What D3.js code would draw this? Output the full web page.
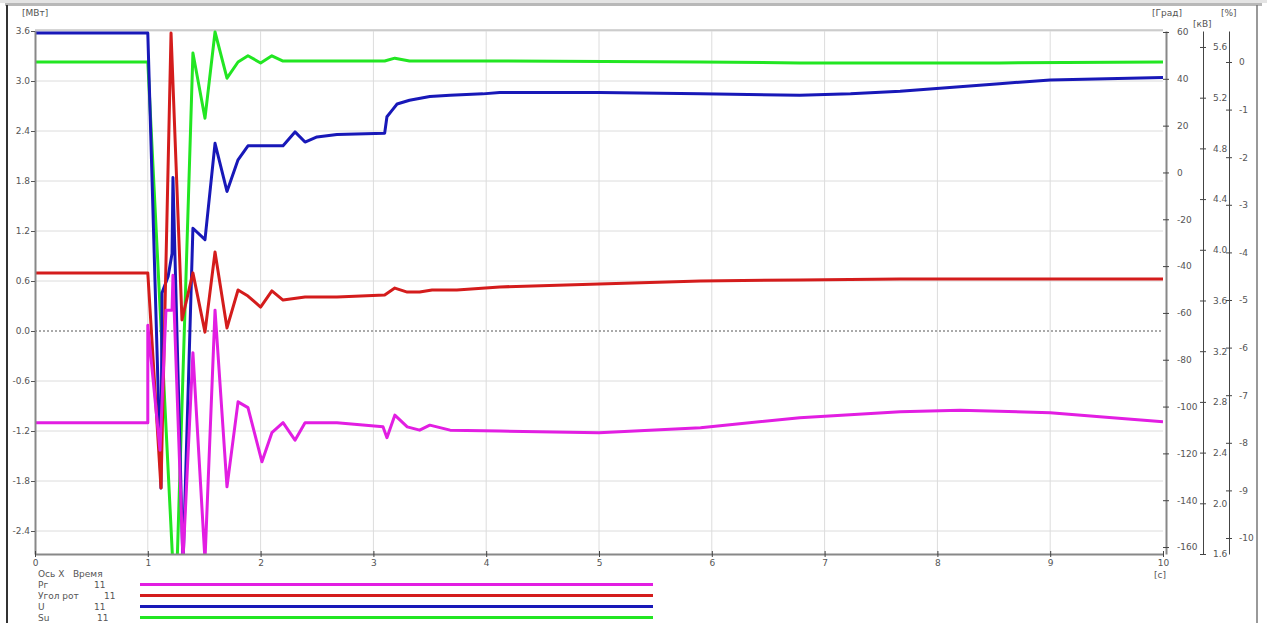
<!DOCTYPE html>
<html>
<head>
<meta charset="utf-8">
<script src="https://cdn.jsdelivr.net/npm/d3@7"></script>
<style>
  body { margin: 0; background: #fff; }
  svg text { font-family: "DejaVu Sans", Verdana, sans-serif; font-size: 9px; fill: #555; }
  .grid line { stroke: #dcdcdc; stroke-width: 1; }
  .series { fill: none; stroke-width: 3; stroke-linejoin: round; }
</style>
</head>
<body>
<div class="container"></div>
<script>
var WIDTH = 1267, HEIGHT = 623;
var LEFT = 35, RIGHT = 1163, TOP = 31, BOTTOM = 554;

// time axis, seconds
var timeTicks = d3.range(0, 11);
// left axis [МВт]
var mwTicks = [3.6, 3.0, 2.4, 1.8, 1.2, 0.6, 0.0, -0.6, -1.2, -1.8, -2.4];
// [Град]
var degTicks = [60, 40, 20, 0, -20, -40, -60, -80, -100, -120, -140, -160];
// [кВ]
var kvTicks = [5.6, 5.2, 4.8, 4.4, 4.0, 3.6, 3.2, 2.8, 2.4, 2.0, 1.6];
// [%]
var pctTicks = [0, -1, -2, -3, -4, -5, -6, -7, -8, -9, -10];

// Рг, МВт
var pgTime   = [0, 1.0, 1.0, 1.108, 1.161, 1.215, 1.223, 1.312, 1.40, 1.507, 1.596, 1.702, 1.80, 1.888, 2.012, 2.10, 2.199, 2.305, 2.394, 2.677, 3.085, 3.12, 3.19, 3.30, 3.41, 3.50, 3.68, 4.12, 5.0, 5.9, 6.78, 7.67, 8.2, 9.0, 9.44, 10];
var pgValues = [-1.10, -1.10, 0.07, -1.43, 0.25, 0.25, 0.67, -2.75, -0.26, -2.75, 0.25, -1.87, -0.85, -0.92, -1.57, -1.22, -1.10, -1.31, -1.10, -1.10, -1.15, -1.28, -1.01, -1.15, -1.19, -1.13, -1.19, -1.20, -1.22, -1.16, -1.04, -0.97, -0.95, -0.98, -1.03, -1.09];

// Угол рот, Град
var angTime   = [0, 1.0, 1.117, 1.206, 1.303, 1.40, 1.507, 1.596, 1.702, 1.80, 1.888, 2.0, 2.10, 2.199, 2.394, 2.677, 3.10, 3.19, 3.30, 3.41, 3.52, 3.74, 4.12, 5.0, 5.9, 6.78, 7.67, 10];
var angValues = [-42.9, -42.9, -134.8, 59.6, -63, -42.9, -68.2, -34, -66.4, -50.2, -52.8, -57.5, -50.6, -54.5, -53.2, -53.2, -52.3, -49.4, -51.1, -51.1, -50.2, -50.2, -48.9, -47.6, -46.4, -45.9, -45.5, -45.5];

// U, кВ
var uTime   = [0, 1.0, 1.117, 1.126, 1.18, 1.215, 1.223, 1.312, 1.40, 1.507, 1.596, 1.702, 1.80, 1.888, 2.199, 2.305, 2.394, 2.50, 2.677, 3.10, 3.12, 3.165, 3.21, 3.32, 3.50, 3.68, 3.97, 4.12, 5.0, 5.9, 6.78, 7.23, 7.67, 8.55, 9.0, 10];
var uValues = [5.71, 5.71, 2.12, 3.66, 3.79, 3.97, 4.57, 1.50, 4.17, 4.08, 4.84, 4.46, 4.71, 4.82, 4.82, 4.93, 4.85, 4.89, 4.91, 4.92, 5.05, 5.10, 5.15, 5.18, 5.21, 5.22, 5.23, 5.24, 5.24, 5.23, 5.22, 5.23, 5.25, 5.31, 5.34, 5.36];

// Su, %
var suTime   = [0, 1.0, 1.223, 1.259, 1.40, 1.507, 1.596, 1.702, 1.80, 1.888, 2.0, 2.10, 2.199, 2.35, 3.10, 3.19, 3.32, 4.12, 5.9, 6.78, 8.55, 10];
var suValues = [0, 0, -10.6, -10.6, 0.19, -1.18, 0.63, -0.34, 0, 0.13, -0.02, 0.13, 0.02, 0.02, 0.02, 0.08, 0.02, 0.02, 0, -0.02, -0.02, 0];

var legendNames = ["Рг", "Угол рот", "U", "Su"];
var legendCounts = ["11", "11", "11", "11"];
var colors = ["#e21ee2", "#d41c1c", "#1818b8", "#22e622"];

var zip = function(ts, vs){
    return ts.map(function(t, i){ return {t: t, v: vs[i]}; });
};

var svg = d3.select('.container').append('svg')
            .attr('width', WIDTH)
            .attr('height', HEIGHT);

// outer frame
svg.append('rect').attr('x', 0).attr('y', 0).attr('width', WIDTH).attr('height', 3).attr('fill', '#e4e4e4');
svg.append('rect').attr('x', 5).attr('y', 3).attr('width', WIDTH - 10).attr('height', 3).attr('fill', '#b8b8b8');
svg.append('line').attr('x1', 7).attr('x2', 7).attr('y1', 5).attr('y2', HEIGHT)
   .attr('stroke', '#333').attr('stroke-width', 2);
svg.append('line').attr('x1', 1257).attr('x2', 1257).attr('y1', 5).attr('y2', HEIGHT)
   .attr('stroke', '#777').attr('stroke-width', 1.5);

var x = d3.scaleLinear().domain([0, 10]).range([LEFT, RIGHT]);
var yMw = d3.scaleLinear().domain([-2.676, 3.6]).range([BOTTOM, TOP]);
var yDeg = d3.scaleLinear().domain([-162.98, 60.43]).range([BOTTOM, TOP]);
var yKv = d3.scaleLinear().domain([1.6, 5.726]).range([BOTTOM, TOP]);
var yPct = d3.scaleLinear().domain([-10.336, 0.651]).range([BOTTOM, TOP]);

// grid
var grid = svg.append('g').classed('grid', true);
grid.selectAll('line.h').data(mwTicks).enter().append('line')
    .attr('x1', LEFT).attr('x2', RIGHT)
    .attr('y1', function(d){ return yMw(d); })
    .attr('y2', function(d){ return yMw(d); })
    .style('display', function(d){ return d === 0 ? 'none' : null; });
grid.selectAll('line.v').data(timeTicks.slice(1, 10)).enter().append('line')
    .attr('y1', TOP).attr('y2', BOTTOM)
    .attr('x1', function(d){ return x(d); })
    .attr('x2', function(d){ return x(d); });

// top border of plot
svg.append('line').attr('x1', LEFT).attr('x2', RIGHT).attr('y1', TOP - 1).attr('y2', TOP - 1)
   .attr('stroke', '#aaa');

// zero line
svg.append('line').attr('x1', LEFT).attr('x2', RIGHT)
   .attr('y1', yMw(0)).attr('y2', yMw(0))
   .attr('stroke', '#555').attr('stroke-dasharray', '2,2');

// series
svg.append('clipPath').attr('id', 'plotclip')
   .append('rect').attr('x', LEFT).attr('y', TOP - 3).attr('width', RIGHT - LEFT).attr('height', BOTTOM - TOP + 3);

var plot = svg.append('g').attr('clip-path', 'url(#plotclip)');
var series = [
    {data: zip(pgTime, pgValues), y: yMw},
    {data: zip(angTime, angValues), y: yDeg},
    {data: zip(uTime, uValues), y: yKv},
    {data: zip(suTime, suValues), y: yPct}
];
// green at the back, magenta on top
[3, 2, 1, 0].forEach(function(i){
    var s = series[i];
    var line = d3.line()
                 .x(function(d){ return x(d.t); })
                 .y(function(d){ return s.y(d.v); });
    plot.append('path')
        .classed('series', true)
        .attr('d', line(s.data))
        .attr('stroke', colors[i]);
});

var crossTicks = function(g){
    g.selectAll('.tick line').attr('x1', -3).attr('x2', 3).attr('stroke', '#444');
    g.selectAll('.tick text').attr('fill', '#555');
};

// left axis
var gL = svg.append('g').attr('transform', 'translate(' + LEFT + ',0)')
    .call(d3.axisLeft(yMw).tickValues(mwTicks).tickSize(4).tickSizeOuter(0)
          .tickFormat(function(d){ return d.toFixed(1); }));
gL.select('.domain').attr('stroke', '#888').attr('stroke-width', 2);
gL.selectAll('.tick line').attr('stroke', '#555');
gL.selectAll('.tick text').attr('x', -5).attr('fill', '#555');

// bottom axis
var gB = svg.append('g').attr('transform', 'translate(0,' + BOTTOM + ')')
    .call(d3.axisBottom(x).tickValues(timeTicks).tickSizeOuter(0)
          .tickFormat(function(d){ return d; }));
gB.select('.domain').attr('stroke', '#888').attr('stroke-width', 2);
gB.selectAll('.tick line').attr('y1', -3).attr('y2', 3).attr('stroke', '#444');
gB.selectAll('.tick text').attr('y', 6).attr('fill', '#555');

// right axes
var gDeg = svg.append('g').attr('transform', 'translate(1166,0)')
    .call(d3.axisRight(yDeg).tickValues(degTicks).tickSizeOuter(0).tickPadding(5)
          .tickFormat(function(d){ return d; }));
gDeg.select('.domain').attr('stroke', '#888').attr('stroke-width', 2);
crossTicks(gDeg);

var gKv = svg.append('g').attr('transform', 'translate(1203,0)')
    .call(d3.axisRight(yKv).tickValues(kvTicks).tickSizeOuter(0).tickPadding(4)
          .tickFormat(function(d){ return d.toFixed(1); }));
gKv.select('.domain').attr('stroke', '#444');
crossTicks(gKv);

var gPct = svg.append('g').attr('transform', 'translate(1229,0)')
    .call(d3.axisRight(yPct).tickValues(pctTicks).tickSizeOuter(0).tickPadding(4)
          .tickFormat(function(d){ return d; }));
gPct.select('.domain').attr('stroke', '#444');
crossTicks(gPct);

svg.selectAll('.tick text').style('font-size', '9px');

// unit labels
var units = [
    {text: '[МВт]', x: 22, y: 16},
    {text: '[Град]', x: 1152, y: 16},
    {text: '[кВ]', x: 1193, y: 27},
    {text: '[%]', x: 1221, y: 16},
    {text: '[c]', x: 1154, y: 578}
];
svg.selectAll('text.unit').data(units).enter().append('text')
    .classed('unit', true)
    .attr('x', function(d){ return d.x; })
    .attr('y', function(d){ return d.y; })
    .text(function(d){ return d.text; });

// legend
svg.append('text').attr('x', 38).attr('y', 577).attr('xml:space', 'preserve').text('Ось X   Время');
var countX = [94, 104, 94, 97];
var legend = svg.selectAll('g.legend').data(legendNames).enter().append('g')
    .classed('legend', true)
    .attr('transform', function(d, i){ return 'translate(0,' + (584.5 + i * 11) + ')'; });
legend.append('text').attr('x', 38).attr('y', 3).text(function(d){ return d; });
legend.append('text').attr('x', function(d, i){ return countX[i]; }).attr('y', 3)
    .text(function(d, i){ return legendCounts[i]; });
legend.append('line').attr('x1', 140).attr('x2', 653).attr('y1', 0).attr('y2', 0)
    .attr('stroke', function(d, i){ return colors[i]; })
    .attr('stroke-width', 3);
</script>
</body>
</html>
